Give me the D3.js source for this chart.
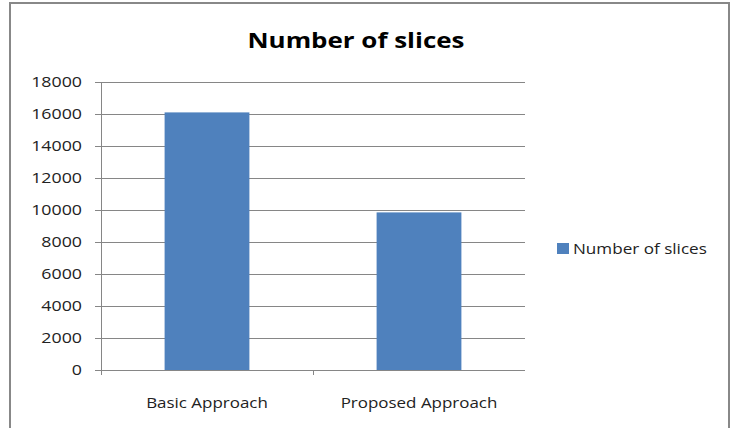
<!DOCTYPE html>
<html>
<head>
<meta charset="utf-8">
<script src="https://cdn.jsdelivr.net/npm/d3@7"></script>
<style>
  body { margin: 0; background: #fff; }
  svg { display: block; font-family: "Open Sans", sans-serif; }
</style>
</head>
<body>
<svg id="chart" width="737" height="428"></svg>
<script>
let categories = ["Basic Approach", "Proposed Approach"];
let values = [16100, 9850];
let yTicks = [0, 2000, 4000, 6000, 8000, 10000, 12000, 14000, 16000, 18000];
let seriesName = "Number of slices";
let chartTitle = "Number of slices";

let svg = d3.select("#chart");
let barColor = "#4f81bd";

// the original picture is a bit stretched sideways, so text gets a scaleX
let placeText = (sx) => (sel, fx, fy) =>
    sel.attr("transform", (d, i) => "translate(" + fx(d, i) + "," + fy(d, i) + ") scale(" + sx + ",1)");

// outer frame (bottom edge falls outside the picture)
svg.append("path")
    .attr("d", "M10,430 L10,3 L729,3 L729,430")
    .style("fill", "none")
    .style("stroke", "#888")
    .style("stroke-width", 2);

let pl = 101, pr = 525, pt = 82, pb = 370;

let x = d3.scaleBand()
    .domain(categories)
    .range([pl, pr])
    .paddingInner(0.6)
    .paddingOuter(0.3);

let xFull = d3.scaleBand().domain(categories).range([pl, pr]);

let y = d3.scaleLinear()
    .domain([0, 18000])
    .range([pb, pt]);

// gridlines
svg.append("g")
    .selectAll("line")
    .data(yTicks)
    .enter()
    .append("line")
    .attr("x1", pl - 6)
    .attr("x2", pr)
    .attr("y1", (d) => Math.round(y(d)) + 0.5)
    .attr("y2", (d) => Math.round(y(d)) + 0.5)
    .style("stroke", "#868686")
    .style("stroke-width", 1);

// y labels
svg.append("g")
    .selectAll("text")
    .data(yTicks)
    .enter()
    .append("text")
    .call(placeText(1.27), () => 82, (d) => y(d) + 5)
    .attr("text-anchor", "end")
    .style("font-size", "14px")
    .style("fill", "#222")
    .text((d) => d);

// bars
svg.append("g")
    .selectAll("rect")
    .data(values)
    .enter()
    .append("rect")
    .attr("x", (d, i) => x(categories[i]))
    .attr("y", (d) => y(d))
    .attr("width", x.bandwidth())
    .attr("height", (d) => y(0) - y(d))
    .style("fill", barColor);

// y axis line
svg.append("line")
    .attr("x1", pl + 0.5).attr("x2", pl + 0.5)
    .attr("y1", pt).attr("y2", pb + 5)
    .style("stroke", "#868686");

// x axis baseline and the tick between the categories
svg.append("line")
    .attr("x1", pl - 6).attr("x2", pr)
    .attr("y1", Math.round(y(0)) + 0.5).attr("y2", Math.round(y(0)) + 0.5)
    .style("stroke", "#868686");

let tickXs = categories.slice(1).map((c) => xFull(c));
svg.append("g")
    .selectAll("line")
    .data(tickXs)
    .enter()
    .append("line")
    .attr("x1", (d) => Math.round(d) + 0.5)
    .attr("x2", (d) => Math.round(d) + 0.5)
    .attr("y1", pb)
    .attr("y2", pb + 5)
    .style("stroke", "#868686");

// category labels
svg.append("g")
    .selectAll("text")
    .data(categories)
    .enter()
    .append("text")
    .call(placeText(1.13), (d) => xFull(d) + xFull.bandwidth() / 2, () => 408)
    .attr("text-anchor", "middle")
    .style("font-size", "15px")
    .style("fill", "#222")
    .text((d) => d);

// title
svg.append("g")
    .selectAll("text")
    .data([chartTitle])
    .enter()
    .append("text")
    .call(placeText(1.18), () => 356, () => 48)
    .attr("text-anchor", "middle")
    .style("font-size", "22px")
    .style("font-weight", "bold")
    .style("fill", "#000")
    .text((d) => d);

// legend
svg.append("rect")
    .attr("x", 557)
    .attr("y", 243)
    .attr("width", 12)
    .attr("height", 11)
    .style("fill", barColor);
svg.append("g")
    .selectAll("text")
    .data([seriesName])
    .enter()
    .append("text")
    .call(placeText(1.14), () => 573, () => 254)
    .style("font-size", "15px")
    .style("fill", "#222")
    .text((d) => d);
</script>
</body>
</html>
